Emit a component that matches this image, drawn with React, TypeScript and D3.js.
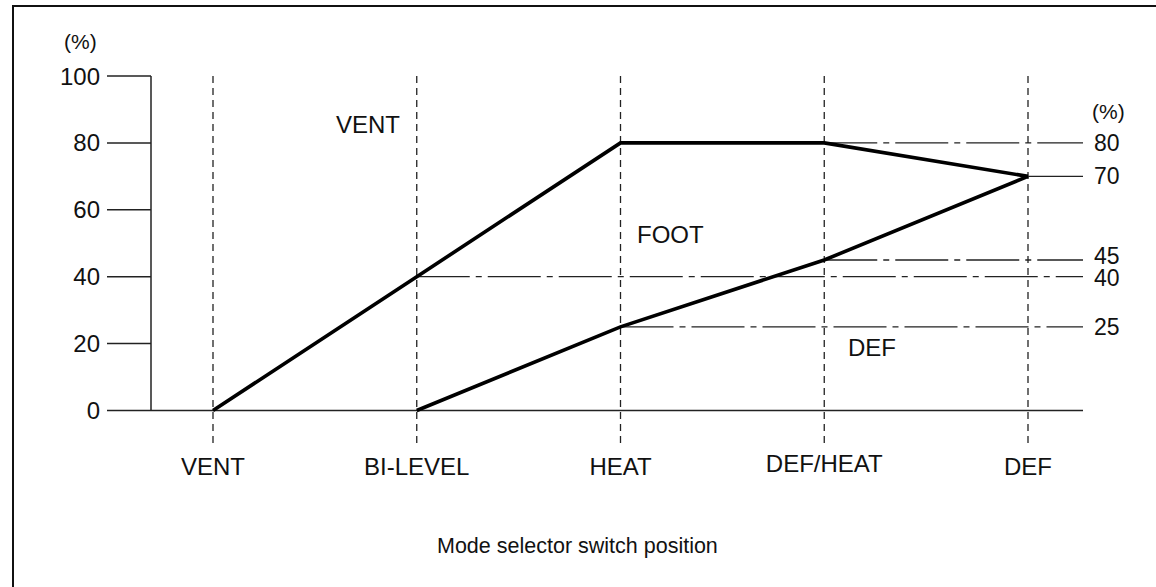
import React from 'react';
import * as d3 from 'd3';

// Mode selector switch positions (x categories)
const positions = ['VENT', 'BI-LEVEL', 'HEAT', 'DEF/HEAT', 'DEF'];

// Upper boundary: VENT / FOOT split (%)
const ventFootLine = [0, 40, 80, 80, 70];
// Lower boundary: FOOT / DEF split (%), starts at BI-LEVEL
const footDefPositions = ['BI-LEVEL', 'HEAT', 'DEF/HEAT', 'DEF'];
const footDefLine = [0, 25, 45, 70];

// Left axis ticks
const yTicks = [0, 20, 40, 60, 80, 100];

// Right-hand reference levels and where each starts
const refValues = [80, 70, 45, 40, 25];
const refStarts = ['DEF/HEAT', 'DEF', 'DEF/HEAT', 'BI-LEVEL', 'HEAT'];
const refSolid = [false, true, false, false, false];
// small nudges so 45 and 40 sit like the original (nearly touching)
const refLabelDy = [8, 8, 4.5, 9.5, 8];

// Region labels inside the plot
const regionLabels = ['VENT', 'FOOT', 'DEF'];
const regionLabelX = [336, 637, 848];
const regionLabelY = [133, 243, 356];

const W = 1156;
const H = 587;
const FONT = '"Liberation Sans", Arial, Helvetica, sans-serif';
const INK = '#111';

export default function App() {
  const x = d3.scalePoint<string>().domain(positions).range([213, 1028]);
  const y = d3.scaleLinear().domain([0, 100]).range([410.5, 76]);

  const axisX = 151;
  const tickStart = 107;
  const rightEnd = 1083;

  const line = d3.line<[number, number]>().x(d => d[0]).y(d => d[1]);

  const upperPts: [number, number][] = positions.map((p, i) => [x(p)!, y(ventFootLine[i])]);
  const lowerPts: [number, number][] = footDefPositions.map((p, i) => [x(p)!, y(footDefLine[i])]);

  return (
    <svg
      width={W}
      height={H}
      style={{ position: 'absolute', left: 0, top: 0, background: '#fff' }}
      fontFamily={FONT}
    >
      {/* frame (top + left only, picture is cropped) */}
      <line x1={12} x2={W} y1={6} y2={6} stroke={INK} strokeWidth={2} />
      <line x1={13} x2={13} y1={5} y2={H} stroke={INK} strokeWidth={2} />

      {/* vertical dashed position lines */}
      {positions.map(p => (
        <line
          key={'v' + p}
          x1={x(p)}
          x2={x(p)}
          y1={y(100)}
          y2={443}
          stroke="#222"
          strokeWidth={1.3}
          strokeDasharray="7,5"
        />
      ))}

      {/* y axis */}
      <line x1={axisX} x2={axisX} y1={y(100)} y2={y(0)} stroke="#222" strokeWidth={1.5} />
      {yTicks.map(t => (
        <g key={'t' + t}>
          <line x1={tickStart} x2={t === 0 ? rightEnd : axisX} y1={y(t)} y2={y(t)} stroke="#222" strokeWidth={1.5} />
          <text x={100} y={y(t) + 8.5} textAnchor="end" fontSize={24} fill={INK}>
            {t}
          </text>
        </g>
      ))}
      <text x={64} y={49} fontSize={21} fill={INK}>(%)</text>

      {/* right reference levels */}
      {refValues.map((v, i) => (
        <g key={'r' + v}>
          <line
            x1={x(refStarts[i])}
            x2={rightEnd}
            y1={y(v)}
            y2={y(v)}
            stroke="#222"
            strokeWidth={1.3}
            strokeDasharray={refSolid[i] ? undefined : '53,6,6,6'}
          />
          <text x={1094} y={y(v) + refLabelDy[i]} fontSize={23} fill={INK}>
            {v}
          </text>
        </g>
      ))}
      <text x={1092} y={119} fontSize={21} fill={INK}>(%)</text>

      {/* boundary lines */}
      <path d={line(upperPts)!} fill="none" stroke="#000" strokeWidth={3.6} strokeLinejoin="miter" />
      <path d={line(lowerPts)!} fill="none" stroke="#000" strokeWidth={3.6} strokeLinejoin="miter" />

      {/* region labels */}
      {regionLabels.map((l, i) => (
        <text key={'l' + l} x={regionLabelX[i]} y={regionLabelY[i]} fontSize={24} fill={INK}>
          {l}
        </text>
      ))}

      {/* x category labels */}
      {positions.map(p => (
        <text
          key={'x' + p}
          x={x(p)}
          y={p === 'DEF/HEAT' ? 472 : 475}
          textAnchor="middle"
          fontSize={24}
          fill={INK}
        >
          {p}
        </text>
      ))}

      <text x={437} y={553} fontSize={21.5} fill={INK}>
        Mode selector switch position
      </text>
    </svg>
  );
}
